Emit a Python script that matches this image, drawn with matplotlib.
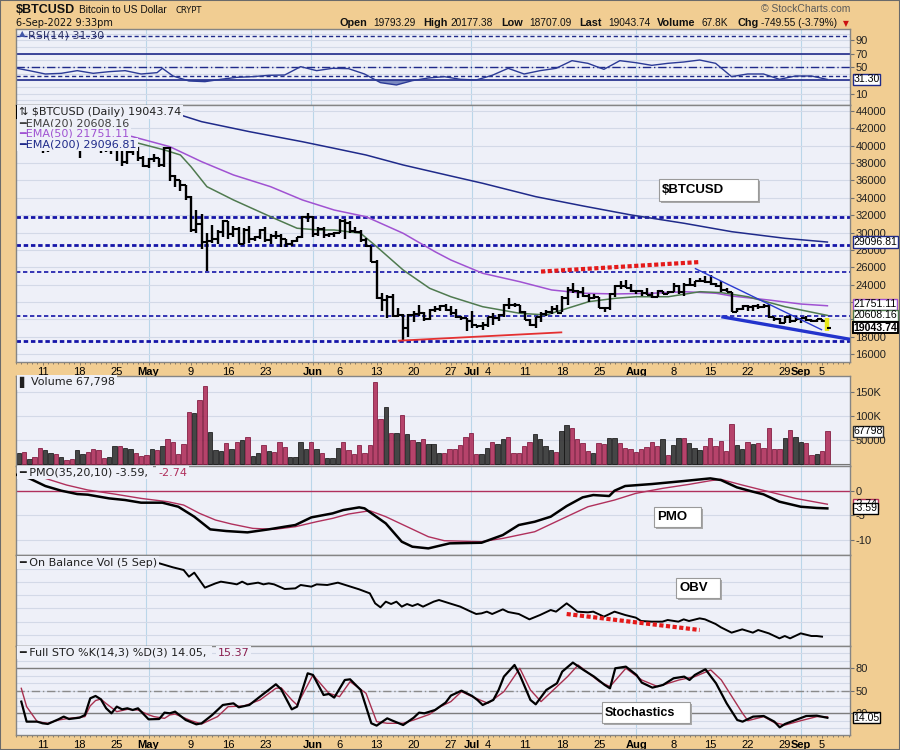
import datetime as dt

import matplotlib
matplotlib.use("Agg")
import matplotlib.pyplot as plt
from matplotlib import font_manager
from matplotlib.patches import Rectangle

plt.rcParams["font.family"] = ["Liberation Sans", "DejaVu Sans"]

START = dt.date(2022, 4, 6)   # day 0 of the chart

# daily bars, 6 Apr 2022 .. 6 Sep 2022 (7 per row)
closes = [
    43200, 43450, 42250, 42750, 42150, 39530, 40090,
    41150, 39940, 40550, 40400, 39700, 40800, 41500,
    41370, 40480, 39710, 39470, 39450, 40430, 38120,
    39240, 39740, 38600, 37710, 38470, 38530, 37750,
    39690, 36550, 36010, 35470, 34060, 30300, 31020,
    28940, 29050, 29280, 30100, 31300, 29860, 30420,
    28720, 30310, 29200, 29430, 30320, 29100, 29650,
    29560, 29270, 28630, 29030, 29470, 31730, 31790,
    29800, 30450, 29700, 29860, 29900, 31370, 31130,
    30210, 30110, 29090, 28420, 26570, 22490, 22210,
    22580, 20380, 20470, 19020, 20550, 20570, 20720,
    19990, 21090, 21230, 21500, 21030, 20730, 20250,
    20100, 19780, 19300, 19230, 19300, 20230, 20190,
    20550, 21630, 21590, 21590, 20850, 19960, 19330,
    20210, 20570, 20830, 21190, 20780, 22480, 23390,
    23230, 23160, 22680, 22460, 22580, 21310, 21250,
    22950, 23840, 23800, 23640, 23300, 23270, 22990,
    22820, 22600, 23310, 22960, 23180, 23810, 23160,
    23950, 23950, 24400, 24440, 24300, 24100, 23850,
    23340, 23200, 20830, 21140, 21520, 21400, 21530,
    21370, 21560, 20240, 20040, 19550, 20280, 19800,
    20050, 20130, 19950, 19830, 19990, 19793.29, 19043.74,
]
highs = [
    45500, 43900, 43900, 42800, 43400, 42400, 40700,
    41500, 41500, 40800, 40700, 40600, 41000, 41700,
    42200, 42900, 40800, 39900, 39900, 40600, 40700,
    39400, 40300, 39900, 38800, 38600, 39100, 38600,
    39900, 39800, 36600, 36100, 35500, 34200, 32600,
    32100, 30000, 30900, 30300, 31400, 31300, 30700,
    30600, 30500, 30700, 29600, 30400, 30600, 29800,
    30200, 29800, 29300, 29100, 29500, 31900, 32200,
    31900, 30600, 30600, 29900, 30100, 31600, 31500,
    31300, 30600, 30300, 29400, 28500, 26800, 23000,
    22800, 22900, 21300, 20600, 20600, 21000, 21700,
    20800, 21200, 21500, 21600, 21800, 21500, 21200,
    20400, 20200, 20900, 19400, 19650, 20300, 20700,
    20600, 21800, 22400, 21900, 21600, 20900, 20000,
    20300, 20800, 21100, 21500, 21600, 22700, 23700,
    24200, 23400, 23700, 22900, 22900, 22600, 21400,
    23000, 24000, 24400, 24500, 24100, 23400, 23400,
    23600, 23200, 23400, 23300, 23300, 24200, 23900,
    24200, 24800, 24400, 24800, 25000, 25100, 24200,
    24400, 23600, 23200, 21300, 21700, 21600, 21700,
    21800, 21800, 21800, 20300, 20100, 20400, 20500,
    20400, 20200, 20400, 20000, 20000, 20000, 20177.38,
]
lows = [
    43100, 43000, 42100, 42150, 42100, 39200, 39300,
    39550, 39600, 39800, 40000, 39550, 38550, 40550,
    40900, 39800, 39200, 39300, 39000, 38200, 37700,
    37900, 38900, 38200, 37600, 37400, 38100, 37500,
    37600, 35900, 35300, 34800, 33800, 30100, 29900,
    28100, 25600, 28800, 28700, 29500, 29200, 29500,
    28700, 28700, 28800, 29000, 29300, 28900, 28700,
    29300, 28300, 28300, 28500, 28900, 29400, 31200,
    29500, 29600, 29400, 29500, 29500, 29900, 29300,
    29900, 29900, 28900, 28300, 26600, 22300, 20900,
    20200, 20300, 20300, 17600, 18000, 19700, 20400,
    19800, 19950, 20800, 20900, 21000, 20500, 20200,
    19900, 18600, 19000, 19000, 18800, 19100, 19300,
    19800, 20300, 21200, 21400, 20700, 19900, 19200,
    18950, 19700, 20400, 20600, 20800, 20800, 21700,
    23000, 22400, 22600, 22000, 22300, 21300, 20800,
    21100, 22600, 23500, 23600, 23200, 22900, 22700,
    22800, 22500, 22600, 22900, 22900, 23100, 22900,
    22700, 23900, 23700, 24300, 24200, 23900, 23700,
    23200, 23100, 20800, 20800, 21100, 20900, 20900,
    21200, 21300, 20200, 19800, 19500, 19600, 19600,
    19800, 19600, 19800, 19700, 19700, 19700, 18707.09,
]
first_open = 45500

# volume in thousands, and 1 = up day (black bar), 0 = down day (red bar)
volume_k = [
    30, 24, 26, 10, 14, 34, 29,
    24, 22, 14, 9, 10, 29, 21,
    26, 32, 29, 12, 15, 38, 38,
    34, 31, 24, 16, 19, 31, 29,
    37, 52, 47, 21, 41, 109, 106,
    132, 161, 67, 29, 28, 43, 32,
    45, 50, 57, 16, 23, 39, 28,
    26, 45, 36, 14, 14, 47, 32,
    45, 31, 24, 12, 12, 34, 45,
    29, 21, 39, 24, 39, 171, 94,
    119, 64, 64, 101, 62, 50, 45,
    52, 41, 41, 23, 23, 31, 32,
    39, 57, 64, 21, 22, 33, 47,
    41, 52, 57, 24, 24, 37, 45,
    62, 52, 37, 29, 26, 68, 81,
    74, 53, 43, 28, 23, 43, 41,
    54, 55, 43, 34, 32, 26, 32,
    36, 45, 38, 52, 19, 40, 54,
    55, 43, 34, 29, 37, 55, 37,
    48, 28, 83, 39, 31, 45, 41,
    43, 33, 74, 31, 31, 54, 70,
    57, 46, 43, 19, 21, 28, 67.798,
]
vol_up = [
    0, 1, 0, 1, 0, 0, 1,
    1, 0, 1, 0, 0, 1, 1,
    0, 0, 0, 0, 1, 1, 0,
    1, 1, 0, 0, 0, 1, 0,
    1, 0, 0, 0, 0, 0, 1,
    0, 0, 1, 1, 1, 0, 1,
    0, 1, 0, 1, 1, 0, 1,
    0, 0, 0, 1, 1, 1, 1,
    0, 1, 0, 1, 1, 1, 0,
    0, 0, 0, 0, 0, 0, 0,
    1, 0, 1, 0, 1, 0, 1,
    0, 1, 1, 1, 0, 0, 0,
    0, 0, 0, 0, 1, 1, 0,
    1, 1, 0, 0, 0, 0, 0,
    1, 1, 1, 1, 0, 1, 1,
    0, 0, 0, 0, 1, 0, 0,
    1, 1, 0, 0, 0, 0, 0,
    0, 0, 0, 1, 0, 1, 1,
    0, 1, 1, 1, 0, 0, 0,
    0, 0, 0, 1, 1, 0, 1,
    0, 0, 0, 0, 0, 1, 0,
    1, 1, 0, 0, 1, 0, 0,
]

# moving averages (day number, value)
ema20_day = [19, 22, 28, 31, 33, 36, 41, 48, 53, 57, 60, 65, 68, 73, 78, 82, 88,
             95, 100, 104, 108, 113, 117, 123, 129, 133, 138, 145, 153]
ema20 = [40850, 40460, 39510, 38930, 37580, 35280, 33750, 31820, 30490, 30290,
         30290, 29910, 28370, 25680, 23570, 22600, 21450, 20690, 20500, 21270,
         22030, 22420, 22600, 22600, 23180, 23070, 22600, 21450, 20450]
ema50_day = [18, 22, 29, 35, 41, 48, 54, 60, 66, 73, 79, 82, 88, 95, 101, 107,
             113, 120, 126, 132, 135, 142, 148, 153]
ema50 = [41620, 41040, 39890, 38160, 36630, 35280, 33750, 32590, 31820, 29910,
         27790, 26830, 25300, 24330, 23380, 23000, 22920, 23000, 23180, 23000,
         22680, 22220, 21760, 21560]
ema200_day = [0, 4, 8, 20, 31, 35, 44, 54, 60, 66, 73, 82, 88, 98, 107, 116,
              126, 135, 145, 153]
ema200 = [44800, 44650, 44550, 44100, 43540, 42770, 41620, 40460, 39700, 38930,
          37780, 36510, 35670, 34130, 33050, 32020, 31060, 30090, 29330, 28900]

rsi_day = [0, 3, 6, 9, 12, 15, 18, 21, 24, 27, 28, 30, 33, 36, 39, 42, 45, 48,
           51, 54, 57, 60, 63, 66, 69, 72, 75, 78, 81, 84, 87, 90, 93, 96, 99,
           102, 105, 108, 111, 114, 117, 120, 123, 126, 129, 132, 135, 138,
           141, 144, 147, 150, 153]
rsi = [49, 44.5, 39.5, 40.5, 44.5, 40.5, 43, 44.5, 39.5, 41.5, 48, 36.5, 29,
       28, 31.5, 34.5, 35.5, 37.5, 38, 50.5, 44.5, 48, 47.5, 39.5, 26.5, 23,
       29.5, 33.5, 35.5, 31.5, 30.5, 37.5, 48, 39.5, 44.5, 48, 59.5, 55.5,
       46.5, 59.5, 56.5, 52.5, 55.5, 57.5, 60.5, 55.5, 35.5, 39.5, 39.5, 31.5,
       36.5, 36.5, 31.3]

pmo_day = [0, 3, 6, 9, 12, 14, 18, 21, 24, 28, 31, 34, 37, 40, 44, 48, 51, 53,
           56, 60, 62, 65, 66, 70, 73, 75, 78, 82, 88, 92, 95, 98, 101, 104,
           107, 109, 112, 113, 115, 120, 126, 131, 133, 136, 139, 141, 144,
           148, 151, 153]
pmo = [3.4, 2.5, 0.95, 0.0, -0.68, -0.81, -1.56, -1.89, -2.43, -2.43, -3.25,
       -5.27, -7.84, -8.18, -8.45, -7.84, -7.30, -6.96, -5.41, -4.60, -3.92,
       -3.38, -3.58, -6.63, -10.34, -11.36, -11.70, -10.68, -10.55, -8.99,
       -6.96, -6.29, -5.27, -3.11, -1.35, -0.88, -1.08, 0.0, 0.95, 1.35, 1.96,
       2.50, 2.16, 0.68, -0.20, -0.74, -2.23, -3.25, -3.50, -3.59]
pmo_sig_day = [0, 6, 10, 14, 19, 24, 29, 32, 35, 38, 41, 45, 49, 53, 57, 60, 63,
               67, 70, 74, 78, 81, 88, 92, 98, 104, 108, 113, 117, 122, 127,
               131, 133, 137, 142, 147, 153]
pmo_sig = [3.8, 2.5, 1.15, 0.14, -0.68, -1.56, -2.23, -2.91, -4.60, -5.95,
           -6.76, -7.64, -7.84, -7.30, -6.29, -5.61, -4.73, -4.06, -5.27, -7.30,
           -9.33, -10.14, -10.34, -9.67, -8.32, -5.27, -3.25, -1.89, -0.54,
           0.47, 1.28, 2.03, 2.30, 1.15, -0.20, -1.56, -2.74]

# on balance volume (no scale shown on the chart, relative units)
obv_day = [20, 27, 30, 32, 33, 34, 36, 38, 39, 41, 42, 43, 44, 46, 47, 48, 49,
           51, 53, 54, 56, 57, 59, 61, 63, 65, 67, 68, 69, 70, 71, 72, 73, 74,
           75, 76, 77, 79, 80, 82, 84, 86, 87, 88, 89, 90, 92, 93, 95, 97, 99,
           101, 102, 104, 105, 106, 108, 109, 111, 113, 115, 117, 118, 120, 122,
           123, 125, 126, 127, 129, 130, 132, 133, 135, 137, 139, 140, 142, 144,
           145, 146, 148, 150, 151, 152]
obv = [1750, 1667, 1573, 1520, 1387, 1467, 1167, 1253, 1287, 1253, 1233, 1287,
       1233, 1267, 1233, 1253, 1233, 1140, 1153, 1220, 1187, 1233, 1220, 1267,
       1200, 1133, 1053, 853, 773, 887, 840, 887, 787, 840, 800, 840, 787, 887,
       920, 853, 787, 687, 640, 653, 687, 640, 733, 680, 640, 533, 620, 720,
       687, 853, 773, 687, 673, 687, 587, 687, 620, 567, 500, 487, 487, 520,
       487, 533, 500, 553, 533, 440, 373, 267, 333, 267, 320, 253, 153, 200,
       153, 253, 200, 200, 187]

sto_k_day = [1, 2, 4, 5, 6, 8, 9, 10, 12, 13, 14, 15, 16, 17, 18, 19, 20, 21,
             22, 23, 25, 27, 28, 29, 30, 32, 34, 35, 37, 39, 41, 42, 44, 46, 49,
             50, 52, 53, 55, 56, 58, 59, 60, 62, 63, 65, 67, 68, 70, 71, 73, 75,
             76, 77, 79, 81, 82, 84, 86, 87, 88, 90, 91, 92, 94, 95, 97, 98,
             100, 102, 103, 105, 107, 109, 111, 112, 113, 115, 117, 118, 120,
             122, 124, 126, 127, 128, 130, 132, 134, 136, 137, 139, 141, 143,
             144, 145, 147, 149, 151, 153]
sto_k = [35.6, 8.9, 8.9, 6.7, 5.8, 12.0, 15.6, 12.4, 14.2, 17.8, 40, 43.1,
         38.7, 26.7, 20, 28.9, 25.3, 26.7, 24.4, 26.7, 12.0, 12.4, 20.9, 20,
         22.2, 11.1, 5.3, 6.7, 17.8, 31.1, 33.3, 28, 31.1, 42.2, 58.7, 52,
         25.3, 28.9, 73.3, 71.1, 44.4, 45.8, 40.9, 64.4, 65.3, 51.1, 6.7, 3.6,
         13.3, 10.2, 4.4, 14.2, 20.9, 20, 24.4, 34.2, 43.6, 50.2, 43.1, 37.8,
         31.1, 37.8, 51.1, 68.9, 84.4, 71.1, 37.8, 32, 51.1, 60, 75.6, 87.6,
         77.8, 68.9, 57.8, 53.3, 80, 82.2, 71.1, 60.9, 54.2, 57.8, 66.7, 68.9,
         64.4, 71.1, 78.7, 60, 33.3, 11.1, 8.9, 15.6, 16.4, 8.9, 1.3, 5.8,
         11.1, 16.4, 16.9, 14.05]
sto_d_day = [1, 2, 4, 6, 8, 10, 13, 14, 15, 16, 17, 19, 21, 23, 25, 26, 28, 29,
             30, 33, 35, 38, 40, 43, 46, 49, 50, 52, 53, 56, 59, 61, 63, 66, 68,
             70, 73, 75, 78, 80, 82, 84, 86, 89, 92, 95, 97, 99, 102, 104, 106,
             110, 112, 115, 118, 121, 125, 128, 131, 133, 137, 138, 141, 143,
             145, 148, 151, 153]
sto_d = [53.3, 28.9, 8.9, 6.7, 11.1, 13.3, 15.6, 30, 37, 39, 33, 22.2, 25.3,
         24.4, 18, 15.6, 13.3, 17.8, 19, 10.2, 5.8, 15.6, 28.9, 29.8, 37.8,
         53.3, 54, 37.8, 31.1, 71.1, 46.7, 42.2, 62.2, 46.7, 8.9, 6.7, 6.7,
         11.1, 18.7, 28.9, 35.6, 48.9, 42.2, 33.3, 48.9, 80, 51.1, 35.6, 55.6,
         68.9, 84.4, 62.2, 55.6, 80, 64.4, 55.6, 64.4, 68.9, 77.8, 64.4, 20,
         10.2, 15.6, 7.6, 4.4, 10.2, 15.6, 15.37]

# drawn annotations
levels_heavy = [31800, 28600, 17500]
levels_thin = [25500, 20400]
price_red_dots = (["2022-07-14", "2022-08-13"], [25500, 26600])
price_red_line = (["2022-06-17", "2022-07-18"], [17530, 18500])
price_blue_thin = (["2022-08-12", "2022-09-05"], [25870, 18770])
price_blue_thick = (["2022-08-17", "2022-09-11"], [20300, 17615])
obv_red_dots = (["2022-07-19", "2022-08-13"], [640, 320])

price_ticks = list(range(16000, 44001, 2000))
price_tick_text = ["" if v == 22000 else str(v) for v in price_ticks]  # under a box

tick_dates = ["2022-04-11", "2022-04-18", "2022-04-25", "2022-05-01", "2022-05-09",
              "2022-05-16", "2022-05-23", "2022-06-01", "2022-06-06", "2022-06-13",
              "2022-06-20", "2022-06-27", "2022-07-01", "2022-07-04", "2022-07-11",
              "2022-07-18", "2022-07-25", "2022-08-01", "2022-08-08", "2022-08-15",
              "2022-08-22", "2022-08-29", "2022-09-01", "2022-09-05"]
tick_labels = ["11", "18", "25", "May", "9", "16", "23", "Jun", "6", "13", "20",
               "27", "Jul", "4", "11", "18", "25", "Aug", "8", "15", "22", "29",
               "Sep", "5"]
month_dates = ["2022-05-01", "2022-06-01", "2022-07-01", "2022-08-01", "2022-09-01"]


def day_of(s):
    return (dt.date.fromisoformat(s) - START).days


W, H = 900, 750
L, R = 16, 850
TAN = "#f1cd92"
PANEL = "#eef0f8"
GRID = "#d3d9e7"
VGRID = "#bad6e9"
NAVY = "#1f2a8a"
VIOLET = "#a052d2"
GREEN = "#4f7a4f"
CRIMSON = "#b0305c"
X0, X1 = 0.49, 157.26

# a condensed face for the title line, if there is one
installed = {f.name for f in font_manager.fontManager.ttflist}
NARROW = "Liberation Sans Narrow" if "Liberation Sans Narrow" in installed else None

fig = plt.figure(figsize=(W / 100, H / 100), dpi=100)
fig.patch.set_facecolor(TAN)
month_days = [day_of(s) for s in month_dates]
tick_days = [day_of(s) for s in tick_dates]


def panel(top, bottom, ylim):
    ax = fig.add_axes([L / W, 1 - bottom / H, (R - L) / W, (bottom - top) / H])
    ax.set_facecolor(PANEL)
    ax.set_xlim(X0, X1)
    ax.set_ylim(*ylim)
    for s in ax.spines.values():
        s.set_color("#858585")
        s.set_linewidth(1)
    ax.yaxis.tick_right()
    ax.tick_params(axis="y", direction="out", length=3, width=0.8, pad=1,
                   labelsize=8, color="#707070", labelcolor="#222222")
    ax.tick_params(axis="x", which="both", bottom=False, labelbottom=False)
    for d in month_days:
        ax.axvline(d, color=VGRID, lw=0.8, zorder=0)
    return ax


def hgrid(ax, values):
    for v in values:
        ax.axhline(v, color=GRID, lw=0.8, zorder=0)


def date_axis(ax):
    ax.set_xticks(tick_days)
    ax.set_xticklabels(tick_labels)
    ax.set_xticks(range(0, 158), minor=True)
    ax.tick_params(axis="x", which="both", bottom=True, labelbottom=True,
                   direction="out", color="#8a7a60", width=0.7, pad=1, labelsize=8)
    ax.tick_params(axis="x", which="major", length=2.5)
    ax.tick_params(axis="x", which="minor", length=1.5)
    for lbl in ax.get_xticklabels():
        if lbl.get_text().isalpha():
            lbl.set_fontweight("bold")


def value_box(ax, v, s, color, bold=False, lw=1):
    ax.text(1.004, v, s, transform=ax.get_yaxis_transform(), ha="left", va="center",
            fontsize=7.6, fontweight="bold" if bold else "normal", zorder=6,
            bbox=dict(boxstyle="square,pad=0.06", fc="white", ec=color, lw=lw))


def legend(x, y, s, color="#202020", cover=True, size=8):
    box = dict(facecolor=PANEL, edgecolor="none", pad=1.2) if cover else None
    fig.text(x / W, 1 - y / H, s, color=color, fontsize=size, family="DejaVu Sans",
             ha="left", va="center", bbox=box)


def note(x0, y0, x1, y1, s, size=9.5):
    fig.add_artist(Rectangle(((x0 + 2) / W, 1 - (y1 + 2) / H), (x1 - x0) / W,
                             (y1 - y0) / H, transform=fig.transFigure,
                             fc="#a8a8a8", ec="none", zorder=4))
    fig.add_artist(Rectangle((x0 / W, 1 - y1 / H), (x1 - x0) / W, (y1 - y0) / H,
                             transform=fig.transFigure, fc="white", ec="#9a9a9a",
                             lw=0.8, zorder=4.1))
    fig.text((x0 + 3) / W, 1 - (y0 + y1) / 2 / H, s, fontsize=size,
             fontweight="bold", ha="left", va="center", zorder=5)


days = list(range(len(closes)))
opens = [first_open] + closes[:-1]

# ---------------- RSI ----------------
ax_rsi = panel(29, 105, (-7.1, 107.1))
hgrid(ax_rsi, range(0, 101, 10))
ax_rsi.axhline(96.6, color=NAVY, lw=1, ls=(0, (3, 2)))
ax_rsi.axhline(70, color=NAVY, lw=1.2)
ax_rsi.axhline(50, color=NAVY, lw=1, ls=(0, (6, 2, 1, 2)))
ax_rsi.axhline(36.5, color=NAVY, lw=1, ls=(0, (3, 2)))
ax_rsi.axhline(30, color=NAVY, lw=1.2)
ax_rsi.fill_between(rsi_day, rsi, 30, where=[v < 30 for v in rsi], interpolate=True,
                    color="#4a5ea8", alpha=0.7, lw=0)
ax_rsi.plot(rsi_day, rsi, color="#2b3a96", lw=1)
ax_rsi.set_yticks([90, 70, 50, 10])
ax_rsi.set_yticklabels(["90", "70", "50", "10"])
value_box(ax_rsi, rsi[-1], "31.30", NAVY)

# ---------------- price ----------------
ax_p = panel(105, 362, (15080, 44690))
hgrid(ax_p, price_ticks)
for lv in levels_heavy:
    ax_p.axhline(lv, color="#1515a8", lw=2, ls=(0, (1.6, 1.0)), zorder=1)
for lv in levels_thin:
    ax_p.axhline(lv, color="#1515a8", lw=1.2, ls=(0, (2.6, 1.6)), zorder=1)
ax_p.plot(ema200_day, ema200, color=NAVY, lw=1.1, zorder=2)
ax_p.plot(ema50_day, ema50, color=VIOLET, lw=1.1, zorder=2)
ax_p.plot(ema20_day, ema20, color=GREEN, lw=1.1, zorder=2)
ax_p.vlines(days[:-1], lows[:-1], highs[:-1], color="black", lw=1.7, zorder=3)
ax_p.hlines(opens[:-1], [d - 0.5 for d in days[:-1]], days[:-1], color="black",
            lw=1.5, zorder=3)
ax_p.hlines(closes[:-1], days[:-1], [d + 0.5 for d in days[:-1]], color="black",
            lw=1.5, zorder=3)
ax_p.vlines(days[-1], lows[-1], highs[-1], color="#e8e81a", lw=3.2, zorder=3)
ax_p.hlines(closes[-1], days[-1], days[-1] + 0.6, color="black", lw=1.5, zorder=3)
for (ds, vs), col, lw, ls in [(price_red_dots, "#e41a1a", 3, (0, (1, 0.6))),
                              (price_red_line, "#e43030", 1.3, "-"),
                              (price_blue_thin, "#2a3ad0", 1, "-"),
                              (price_blue_thick, "#2233cc", 2.4, "-")]:
    ax_p.plot([day_of(d) for d in ds], vs, color=col, lw=lw, ls=ls, zorder=4,
              solid_capstyle="butt")
ax_p.set_yticks(price_ticks)
ax_p.set_yticklabels(price_tick_text)
date_axis(ax_p)
value_box(ax_p, ema200[-1], "29096.81", NAVY)
value_box(ax_p, ema50[-1] + 150, "21751.11", VIOLET)
value_box(ax_p, ema20[-1], "20608.16", GREEN)
value_box(ax_p, closes[-1], "19043.74", "black", bold=True, lw=1.4)

# ---------------- volume ----------------
ax_v = panel(376, 466, (-3700, 182600))
hgrid(ax_v, [50000, 100000, 150000])
ax_v.bar(days, [v * 1000 for v in volume_k], width=0.82,
         color=["#333333" if u else CRIMSON for u in vol_up],
         edgecolor=["#151515" if u else "#7c1238" for u in vol_up],
         lw=0.6, alpha=0.9, zorder=2)
ax_v.axhline(0, color="#777777", lw=0.8, zorder=1)
ax_v.set_yticks([50000, 100000, 150000])
ax_v.set_yticklabels(["50000", "100K", "150K"])
value_box(ax_v, volume_k[-1] * 1000, "67798", "#303030")

# ---------------- PMO ----------------
ax_m = panel(466, 555, (-13.04, 5.01))
hgrid(ax_m, [5, -5, -10])
ax_m.axhline(0, color=CRIMSON, lw=1, zorder=1)
ax_m.plot(pmo_sig_day, pmo_sig, color=CRIMSON, lw=1, zorder=2)
ax_m.plot(pmo_day, pmo, color="black", lw=1.8, zorder=3)
ax_m.set_yticks([0, -5, -10])
ax_m.set_yticklabels(["0", "-5", "-10"])
value_box(ax_m, pmo_sig[-1], "-2.74", CRIMSON)
value_box(ax_m, pmo[-1], "-3.59", "black")

# ---------------- OBV ----------------
ax_o = panel(555, 646, (0, 1820))
hgrid(ax_o, [225, 490, 755, 1020, 1285, 1550])
ax_o.plot(obv_day, obv, color="black", lw=1.4, zorder=2)
ax_o.plot([day_of(d) for d in obv_red_dots[0]], obv_red_dots[1], color="#e41a1a",
          lw=3, ls=(0, (1, 0.6)), zorder=3)
ax_o.set_yticks([])

# ---------------- stochastics ----------------
ax_s = panel(646, 735, (-8.9, 109.7))
hgrid(ax_s, range(0, 101, 10))
ax_s.axhline(80, color="#7d7d7d", lw=1, zorder=1)
ax_s.axhline(20, color="#7d7d7d", lw=1, zorder=1)
ax_s.axhline(50, color="#8a8a8a", lw=1, ls=(0, (6, 2, 1, 2)), zorder=1)
ax_s.plot(sto_d_day, sto_d, color="#a8304f", lw=1, zorder=2)
ax_s.plot(sto_k_day, sto_k, color="black", lw=1.6, zorder=3)
ax_s.set_yticks([80, 50, 20])
ax_s.set_yticklabels(["80", "50", "20"])
date_axis(ax_s)
value_box(ax_s, sto_k[-1], "14.05", "black")

# ---------------- panel legends ----------------
legend(19, 33.5, "\u25b2", color="#4257a8", cover=False, size=6)
legend(28, 35, "RSI(14) 31.30", color="#2f3566", cover=False)
legend(19, 112, "\u21c5 $BTCUSD (Daily) 19043.74")
legend(19, 123.5, "\u2501EMA(20) 20608.16", color="#404040")
legend(19, 134, "\u2501EMA(50) 21751.11", color=VIOLET)
legend(19, 144.5, "\u2501EMA(200) 29096.81", color=NAVY)
legend(19, 382.5, "\u258c Volume 67,798")
legend(19, 472.5, "\u2501 PMO(35,20,10) -3.59, ")
legend(158, 472.5, "-2.74", color=CRIMSON)
legend(19, 562.5, "\u2501 On Balance Vol (5 Sep)")
legend(19, 652.5, "\u2501 Full STO %K(14,3) %D(3) 14.05, ")
legend(218, 652.5, "15.37", color="#8a2050")

note(659, 179, 758, 201, "$BTCUSD")
note(654, 507, 701, 527, "PMO")
note(676, 578, 720, 598, "OBV")
note(602, 702, 690, 723, "Stochastics", size=9)


# ---------------- header ----------------
def head(x, y, s, size=7.5, weight="normal", color="#111111", family=None, ha="left"):
    kw = dict(fontsize=size, fontweight=weight, color=color, ha=ha, va="center")
    if family:
        kw["family"] = family
    fig.text(x / W, 1 - y / H, s, **kw)


if NARROW:
    head(16, 10, "$BTCUSD", size=11, weight="bold", family=NARROW)
    head(79, 10, "Bitcoin to US Dollar", size=9, family=NARROW)
else:
    head(16, 10, "$BTCUSD", size=9, weight="bold")
    head(79, 10, "Bitcoin to US Dollar", size=7.3)
head(176, 10.5, "CRYPT", size=6, family="DejaVu Sans")
head(16, 23, "6-Sep-2022 9:33pm", size=7, family="DejaVu Sans")
head(850, 9, "\u00a9 StockCharts.com", size=7.5, color="#5a5a5a", ha="right")
for x, s, bold in [(340, "Open", True), (373, "19793.29", False), (423, "High", True),
                   (450, "20177.38", False), (501, "Low", True), (529, "18707.09", False),
                   (579, "Last", True), (608, "19043.74", False), (657, "Volume", True),
                   (702, "67.8K", False), (737, "Chg", True),
                   (761, "-749.55 (-3.79%)", False)]:
    head(x, 23, s, size=7.8 if bold else 7.3, weight="bold" if bold else "normal")
head(843, 23.5, "\u25bc", size=5.5, color="#cc1111", family="DejaVu Sans")

fig.add_artist(Rectangle((0, 0), 1, 1, transform=fig.transFigure, fill=False,
                         ec="#6a6a6a", lw=1.5, zorder=10))

fig.savefig("out.png", dpi=100, facecolor=fig.get_facecolor())
